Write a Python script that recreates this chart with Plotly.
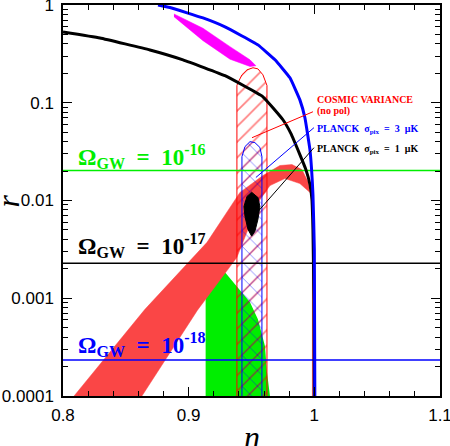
import math
import plotly.graph_objects as go

# ---- data (n = spectral index, r = tensor/scalar ratio)
black_n = [0.8, 0.8294, 0.8692, 0.8955, 0.9289, 0.9591, 0.975, 0.9814, 0.9885, 0.9933, 0.9965, 0.9981, 0.9989, 0.9997, 1.0]
black_r = [0.53, 0.46, 0.347, 0.275, 0.189, 0.115, 0.067, 0.0483, 0.0295, 0.0207, 0.0146, 0.0102, 0.0051, 0.00098, 0.0001]

blue_n = [0.8756, 0.8851, 0.9114, 0.9289, 0.9551, 0.9687, 0.9806, 0.9885, 0.9925, 0.9965, 0.9989, 1.0, 1.0004]
blue_r = [1.0, 0.943, 0.737, 0.597, 0.391, 0.275, 0.18, 0.107, 0.0703, 0.0331, 0.0115, 0.00316, 0.0001]

magenta_n = [0.8883, 0.9114, 0.9329, 0.9488, 0.9535, 0.9488, 0.9329, 0.9114, 0.8883]
magenta_r = [0.81, 0.578, 0.375, 0.275, 0.239, 0.235, 0.279, 0.432, 0.76]

band_n = [0.8088, 0.8652, 0.9146, 0.9408, 0.9591, 0.9726, 0.9822, 0.9901, 0.9949, 0.9965,
          0.9885, 0.9766, 0.9647, 0.9567, 0.9488, 0.9384, 0.907, 0.8628]
band_r = [0.0001, 0.00077, 0.00373, 0.0121, 0.018, 0.0228, 0.0233, 0.0207, 0.0156, 0.0121,
          0.0149, 0.0168, 0.0142, 0.0102, 0.0057, 0.00262, 0.000755, 0.0001]

tail_n = [0.9985, 0.9985]
tail_r = [0.006, 0.0001]

green_n = [0.9135, 0.9135, 0.9249, 0.9408, 0.9488, 0.9551, 0.9607, 0.9623, 0.9647]
green_r = [0.0001, 0.00316, 0.00212, 0.00121, 0.00091, 0.00061, 0.000324, 0.000176, 0.0001]

cv_n = [0.9384, 0.9384, 0.9392, 0.9424, 0.9464, 0.9512, 0.9551, 0.9591, 0.9615, 0.9623, 0.9623]
cv_r = [0.0001, 0.15, 0.160, 0.193, 0.217, 0.228, 0.222, 0.193, 0.160, 0.15, 0.0001]

p3_n = [0.9424, 0.9424, 0.9448, 0.9488, 0.9527, 0.9567, 0.9583, 0.9583]
p3_r = [0.0001, 0.0281, 0.0356, 0.040, 0.0391, 0.0349, 0.0281, 0.0001]

p1_n = [0.9501, 0.9551, 0.9567, 0.9551, 0.9527, 0.9501, 0.9472, 0.9448, 0.944, 0.9464, 0.9501]
p1_r = [0.01216, 0.01074, 0.00868, 0.0064, 0.00483, 0.00432, 0.00506, 0.00687, 0.00868, 0.0110, 0.01216]

omega_r = [0.0203, 0.00228, 0.000233]
omega_exp = ["-16", "-17", "-18"]
omega_col = ["#00ee00", "black", "blue"]
omega_lab_r = [0.0281, 0.00347, 0.00034]

# pointer lines: label end -> region end
ptr_n = [[0.9989, 0.9504], [0.9997, 0.9535], [0.9997, 0.9559]]
ptr_r = [[0.0809, 0.0439], [0.0556, 0.0172], [0.0347, 0.0079]]
ptr_col = ["red", "blue", "black"]

label_r = [0.107, 0.0828, 0.053, 0.0331]

x_ticks = [0.8, 0.9, 1.0, 1.1]
x_ticktext = ["0.8", "0.9", "1", "1.1"]
y_ticks = [0.0001, 0.001, 0.01, 0.1, 1]
y_ticktext = ["0.0001", "0.001", "0.01", "0.1", "1"]

fig = go.Figure()

fig.add_trace(go.Scatter(x=green_n, y=green_r, fill="toself", mode="lines",
                         line=dict(width=0), fillcolor="#00ee00"))
fig.add_trace(go.Scatter(x=band_n, y=band_r, fill="toself", mode="lines",
                         line=dict(width=0.5, color="rgb(250,70,70)"),
                         fillcolor="rgb(250,70,70)"))
fig.add_trace(go.Scatter(x=tail_n, y=tail_r, mode="lines",
                         line=dict(width=1, color="rgb(250,90,90)")))

# cosmic variance, red hatched
fig.add_trace(go.Scatter(x=cv_n, y=cv_r, fill="toself", mode="lines",
                         line=dict(width=1, color="red"),
                         fillcolor="rgba(0,0,0,0)",
                         fillpattern=dict(shape="/", fgcolor="red", bgcolor="rgba(0,0,0,0)",
                                          size=11, solidity=0.15)))
# planck 3 muK, blue cross hatched
fig.add_trace(go.Scatter(x=p3_n, y=p3_r, fill="toself", mode="lines",
                         line=dict(width=1, color="blue"),
                         fillcolor="rgba(0,0,0,0)",
                         fillpattern=dict(shape="x", fgcolor="blue", bgcolor="rgba(0,0,0,0)",
                                          size=11, solidity=0.15)))
# planck 1 muK, black filled
fig.add_trace(go.Scatter(x=p1_n, y=p1_r, fill="toself", mode="lines",
                         line=dict(width=1, color="black"), fillcolor="black"))

fig.add_trace(go.Scatter(x=magenta_n, y=magenta_r, fill="toself", mode="lines",
                         line=dict(width=0.5, color="magenta"), fillcolor="magenta"))

for rv, col in zip(omega_r, omega_col):
    fig.add_trace(go.Scatter(x=[0.8, 1.1], y=[rv, rv], mode="lines",
                             line=dict(width=1.5, color=col)))

fig.add_trace(go.Scatter(x=black_n, y=black_r, mode="lines",
                         line=dict(width=3, color="black", shape="spline", smoothing=0.3)))
fig.add_trace(go.Scatter(x=blue_n, y=blue_r, mode="lines",
                         line=dict(width=3, color="blue", shape="spline", smoothing=0.3)))

for pn, pr, col in zip(ptr_n, ptr_r, ptr_col):
    fig.add_trace(go.Scatter(x=pn, y=pr, mode="lines", line=dict(width=1, color=col)))

nb = "\u00a0"
for lr, ex, col in zip(omega_lab_r, omega_exp, omega_col):
    fig.add_annotation(x=0.8103, y=math.log10(lr), xref="x", yref="y",
                       xanchor="left", yanchor="middle",
                       text=f"<b>Ω<sub>GW</sub>{nb*2}={nb*2}10<sup>{ex}</sup></b>",
                       showarrow=False, font=dict(family="Liberation Serif", size=23, color=col))

labels = ["<b>COSMIC VARIANCE</b>", "<b>(no pol)</b>",
          f"<b>PLANCK{nb}{nb}σ<sub>pix</sub>{nb}{nb}={nb}{nb}3{nb}{nb}μK</b>",
          f"<b>PLANCK{nb}{nb}σ<sub>pix</sub>{nb}{nb}={nb}{nb}1{nb}{nb}μK</b>"]
label_col = ["red", "red", "blue", "black"]
for txt, lr, col in zip(labels, label_r, label_col):
    fig.add_annotation(x=1.0005, y=math.log10(lr), xref="x", yref="y",
                       xanchor="left", yanchor="middle", text=txt, showarrow=False,
                       font=dict(family="Liberation Serif", size=10, color=col))

# axis titles
fig.add_annotation(x=0.5, y=-0.105, xref="paper", yref="paper", text="<i>n</i>",
                   showarrow=False, xanchor="center", yanchor="middle",
                   font=dict(family="Liberation Serif", size=32, color="black"))
fig.add_annotation(x=-0.146, y=0.5, xref="paper", yref="paper", text="<i>r</i>",
                   showarrow=False, textangle=-90, xanchor="center", yanchor="middle",
                   font=dict(family="Liberation Serif", size=32, color="black"))

y_minor = [m * 10 ** e for e in range(-4, 0) for m in range(2, 10)]

fig.update_layout(
    width=450, height=446,
    margin=dict(l=63, r=10, t=5, b=50),
    plot_bgcolor="white", paper_bgcolor="white",
    showlegend=False,
    font=dict(family="Liberation Sans", size=17, color="black"),
)
fig.update_xaxes(range=[0.8, 1.1], tickvals=x_ticks, ticktext=x_ticktext,
                 ticks="inside", ticklen=9, tickwidth=1, tickcolor="black",
                 showline=True, linecolor="black", linewidth=1.5, mirror="ticks",
                 showgrid=False, zeroline=False, ticklabelstandoff=3,
                 automargin=False, ticklabeloverflow="allow",
                 minor=dict(tick0=0.8, dtick=0.02, ticks="inside", ticklen=5,
                            tickcolor="black", showgrid=False))
fig.update_yaxes(type="log", range=[-4, 0], tickvals=y_ticks, ticktext=y_ticktext,
                 ticks="inside", ticklen=9, tickwidth=1, tickcolor="black",
                 showline=True, linecolor="black", linewidth=1.5, mirror="ticks",
                 showgrid=False, zeroline=False, ticklabelstandoff=4,
                 automargin=False, ticklabeloverflow="allow",
                 minor=dict(tickvals=y_minor, ticks="inside", ticklen=5,
                            tickcolor="black", showgrid=False))

fig.write_html("out.html", config={"displayModeBar": False},
               post_script="document.body.style.margin='0';")
